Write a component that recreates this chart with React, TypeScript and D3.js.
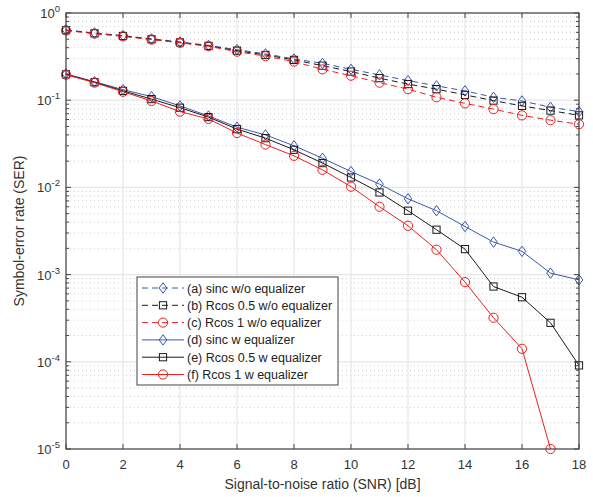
import React from 'react';
import * as d3 from 'd3';

const snr = [0, 1, 2, 3, 4, 5, 6, 7, 8, 9, 10, 11, 12, 13, 14, 15, 16, 17, 18];

const sincNoEq = [0.64, 0.59, 0.55, 0.505, 0.465, 0.425, 0.38, 0.34, 0.297, 0.265, 0.226, 0.195, 0.168, 0.146, 0.128, 0.108, 0.098, 0.083, 0.074];
const rcos05NoEq = [0.635, 0.585, 0.545, 0.5, 0.46, 0.42, 0.37, 0.33, 0.29, 0.249, 0.213, 0.179, 0.153, 0.134, 0.115, 0.099, 0.086, 0.076, 0.067];
const rcos1NoEq = [0.63, 0.58, 0.54, 0.495, 0.455, 0.415, 0.36, 0.32, 0.277, 0.226, 0.191, 0.159, 0.134, 0.108, 0.092, 0.079, 0.067, 0.059, 0.053];
const sincEq = [0.2, 0.163, 0.132, 0.11, 0.086, 0.066, 0.049, 0.04, 0.03, 0.0216, 0.0152, 0.0109, 0.0074, 0.0054, 0.00356, 0.00236, 0.00185, 0.00104, 0.00087];
const rcos05Eq = [0.198, 0.161, 0.128, 0.103, 0.082, 0.064, 0.0466, 0.0367, 0.027, 0.019, 0.013, 0.00875, 0.0054, 0.00327, 0.00196, 0.00073, 0.00055, 0.00028, 0.000091];
const rcos1Eq = [0.196, 0.159, 0.125, 0.098, 0.074, 0.061, 0.042, 0.031, 0.023, 0.0159, 0.0102, 0.006, 0.00363, 0.00193, 0.00082, 0.00032, 0.000141, 0.00001];

const xTicks = [0, 2, 4, 6, 8, 10, 12, 14, 16, 18];
const yExponents = [0, -1, -2, -3, -4, -5];

const BLUE = '#3b58ad';
const RED = '#f01e1e';
const BLACK = '#1a1a1a';

const series = [
  { label: '(a) sinc w/o equalizer', values: sincNoEq, color: BLUE, marker: 'diamond', dash: '6,4' },
  { label: '(b) Rcos 0.5 w/o equalizer', values: rcos05NoEq, color: BLACK, marker: 'square', dash: '6,4' },
  { label: '(c) Rcos 1 w/o equalizer', values: rcos1NoEq, color: RED, marker: 'circle', dash: '6,4' },
  { label: '(d) sinc w equalizer', values: sincEq, color: BLUE, marker: 'diamond', dash: null },
  { label: '(e) Rcos 0.5 w equalizer', values: rcos05Eq, color: BLACK, marker: 'square', dash: null },
  { label: '(f) Rcos 1 w equalizer', values: rcos1Eq, color: RED, marker: 'circle', dash: null },
];

const W = 593;
const H = 497;
const margin = { top: 13, right: 14, bottom: 48, left: 66 };
const FONT = '"Liberation Sans", Arial, Helvetica, sans-serif';

function Marker({ type, x, y, color }: { type: string; x: number; y: number; color: string }) {
  if (type === 'circle') {
    return <circle cx={x} cy={y} r={4.6} fill="none" stroke={color} strokeWidth={1} />;
  }
  if (type === 'square') {
    return <rect x={x - 3.6} y={y - 3.6} width={7.2} height={7.2} fill="none" stroke={color} strokeWidth={1} />;
  }
  return (
    <path
      d={`M${x},${y - 5.2}L${x + 3.8},${y}L${x},${y + 5.2}L${x - 3.8},${y}Z`}
      fill="none"
      stroke={color}
      strokeWidth={1}
    />
  );
}

export default function App() {
  const x = d3.scaleLinear().domain([0, 18]).range([margin.left, W - margin.right]);
  const y = d3.scaleLog().domain([1e-5, 1]).range([H - margin.bottom, margin.top]);

  const line = d3
    .line<number>()
    .x((_, i) => x(snr[i]))
    .y((d) => y(d));

  const minorVals: number[] = [];
  yExponents.slice(0, -1).forEach((e) => {
    for (let k = 2; k <= 9; k++) minorVals.push(k * Math.pow(10, e - 1));
  });

  const x0 = margin.left;
  const x1 = W - margin.right;
  const y0 = H - margin.bottom;
  const y1 = margin.top;

  const legX = 137;
  const legY = 277;
  const legW = 201;
  const legH = 108;
  const rowH = 17.3;

  return (
    <svg width={W} height={H} style={{ position: 'absolute', left: 0, top: 0, background: '#fff' }} fontFamily={FONT}>
      {/* minor grid */}
      {minorVals.map((v) => (
        <line key={'mg' + v} x1={x0} x2={x1} y1={y(v)} y2={y(v)} stroke="#cfcfcf" strokeWidth={1} strokeDasharray="1,3" />
      ))}
      {/* major grid */}
      {xTicks.map((t) => (
        <line key={'gx' + t} x1={x(t)} x2={x(t)} y1={y1} y2={y0} stroke="#e6e6e6" strokeWidth={1.2} />
      ))}
      {yExponents.map((e) => (
        <line key={'gy' + e} x1={x0} x2={x1} y1={y(Math.pow(10, e))} y2={y(Math.pow(10, e))} stroke="#e6e6e6" strokeWidth={1.2} />
      ))}

      {/* series */}
      {series.map((s) => (
        <g key={s.label}>
          <path d={line(s.values) || ''} fill="none" stroke={s.color} strokeWidth={1} strokeDasharray={s.dash || undefined} />
          {s.values.map((v, i) => (
            <Marker key={i} type={s.marker} x={x(snr[i])} y={y(v)} color={s.color} />
          ))}
        </g>
      ))}

      {/* axes box and ticks */}
      <rect x={x0} y={y1} width={x1 - x0} height={y0 - y1} fill="none" stroke="#444" strokeWidth={1.2} />
      {xTicks.map((t) => (
        <g key={'tx' + t}>
          <line x1={x(t)} x2={x(t)} y1={y0} y2={y0 - 5} stroke="#444" />
          <line x1={x(t)} x2={x(t)} y1={y1} y2={y1 + 5} stroke="#444" />
          <text x={x(t)} y={y0 + 20} textAnchor="middle" fontSize={13} fill="#333">
            {t}
          </text>
        </g>
      ))}
      {yExponents.map((e) => {
        const yy = y(Math.pow(10, e));
        return (
          <g key={'ty' + e}>
            <line x1={x0} x2={x0 + 5} y1={yy} y2={yy} stroke="#444" />
            <line x1={x1} x2={x1 - 5} y1={yy} y2={yy} stroke="#444" />
            <text x={x0 - 6} y={yy + 5} textAnchor="end" fontSize={13} fill="#333">
              10<tspan dy={-6} fontSize={9.5}>{e}</tspan>
            </text>
          </g>
        );
      })}
      {minorVals.map((v) => (
        <g key={'mt' + v}>
          <line x1={x0} x2={x0 + 3} y1={y(v)} y2={y(v)} stroke="#444" />
          <line x1={x1} x2={x1 - 3} y1={y(v)} y2={y(v)} stroke="#444" />
        </g>
      ))}

      {/* axis labels */}
      <text x={(x0 + x1) / 2} y={H - 8} textAnchor="middle" fontSize={14} fill="#333">
        Signal-to-noise ratio (SNR) [dB]
      </text>
      <text transform={`translate(24,${(y0 + y1) / 2}) rotate(-90)`} textAnchor="middle" fontSize={14} fill="#333">
        Symbol-error rate (SER)
      </text>

      {/* legend */}
      <rect x={legX} y={legY} width={legW} height={legH} fill="#fff" stroke="#444" strokeWidth={1} />
      {series.map((s, i) => {
        const ly = legY + 11 + i * rowH;
        return (
          <g key={'lg' + s.label}>
            <line x1={legX + 5} x2={legX + 47} y1={ly} y2={ly} stroke={s.color} strokeWidth={1} strokeDasharray={s.dash || undefined} />
            <Marker type={s.marker} x={legX + 26} y={ly} color={s.color} />
            <text x={legX + 50} y={ly + 4.5} fontSize={12.5} fill="#222">
              {s.label}
            </text>
          </g>
        );
      })}
    </svg>
  );
}
